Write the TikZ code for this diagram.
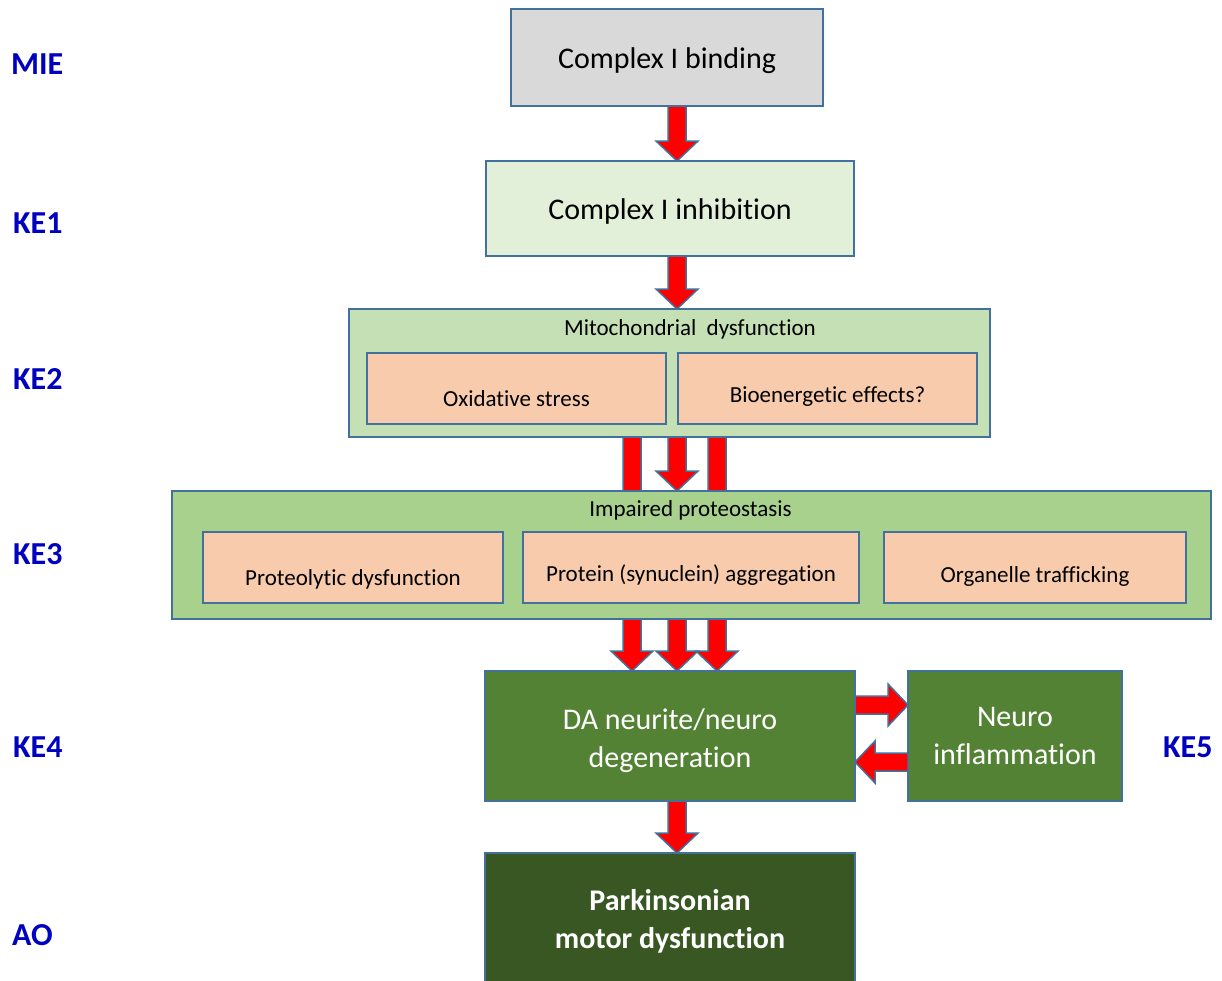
\documentclass[tikz,border=0pt]{standalone}
\usepackage{fontspec}
\setmainfont{Carlito}[Ligatures=NoCommon]
\usetikzlibrary{calc}
\pgfdeclarelayer{background}
\pgfsetlayers{background,main}
\definecolor{bord}{HTML}{41719C}
\definecolor{cmie}{HTML}{D9D9D9}
\definecolor{cke1}{HTML}{E2F0D9}
\definecolor{cke2}{HTML}{C5E0B4}
\definecolor{cke3}{HTML}{A9D18E}
\definecolor{cin}{HTML}{F8CBAD}
\definecolor{cke4}{HTML}{548235}
\definecolor{cao}{HTML}{385723}
\definecolor{labblue}{HTML}{0000C0}
\definecolor{arrred}{HTML}{FF0000}
\tikzset{
  box/.style={draw=bord, line width=1.8pt, inner sep=0pt, outer sep=0pt, align=center},
  bigtxt/.style={font=\fontsize{30}{38}\selectfont},
  smalltxt/.style={font=\fontsize{23}{28}\selectfont},
  lab/.style={font=\fontsize{32}{38}\selectfont\bfseries, text=labblue, inner sep=0pt, anchor=base west},
  fat/.style={draw=bord, fill=arrred, line width=1.5pt, line join=miter,
    to path={let \p1=(\tikztostart), \p2=(\tikztotarget), \p3=($(\p2)!20pt!(\p1)$) in
      ($(\p1)!9pt!90:(\p2)$) -- ($(\p3)!9pt!90:(\p2)$) -- ($(\p3)!21pt!90:(\p2)$) -- (\p2)
      -- ($(\p3)!21pt!-90:(\p2)$) -- ($(\p3)!9pt!-90:(\p2)$) -- ($(\p1)!9pt!-90:(\p2)$) -- cycle}},
}
\begin{document}
\begin{tikzpicture}[x=1pt, y=-1pt]
\begin{pgfonlayer}{background}
\fill[white] (0,0) rectangle (1222,980);
\end{pgfonlayer}
\useasboundingbox (0,0) rectangle (1222,980);

% column coordinates
\coordinate (xc) at (677,0);
\coordinate (xl) at (632,0);
\coordinate (xr) at (717,0);
\coordinate (yra) at (0,705);
\coordinate (yla) at (0,762);
\coordinate (hidl) at (632,540);
\coordinate (hidr) at (717,540);

% labels
\node[lab] (lmie) at (11,74) {MIE};
\node[lab] (lke1) at (13,233) {KE1};
\node[lab] (lke2) at (13,389) {KE2};
\node[lab] (lke3) at (13,564) {KE3};
\node[lab] (lke4) at (13,757) {KE4};
\node[lab] (lao) at (12,945) {AO};
\node[lab] (lke5) at (1163,757) {KE5};

% boxes
\node[box, bigtxt, fill=cmie, minimum width=312, minimum height=97, text height=27pt, text depth=6pt] (mie) at (667,57.5) {Complex I binding};
\node[box, bigtxt, fill=cke1, minimum width=368, minimum height=95, text height=27pt, text depth=6pt] (ke1) at (670,208.5) {Complex I inhibition};

\node[box, fill=cke2, minimum width=641, minimum height=128] (ke2) at (669.5,373) {};
\node[smalltxt, inner sep=0pt, anchor=base] (ke2t) at (690,335) {Mitochondrial\ \ dysfunction};
\node[box, smalltxt, fill=cin, minimum width=299, minimum height=71, text height=40pt, text depth=5pt] (ox) at (516.5,388.5) {Oxidative stress};
\node[box, smalltxt, fill=cin, minimum width=299, minimum height=71, text height=33pt, text depth=5pt] (bio) at (827.5,388.5) {Bioenergetic effects?};

% hidden arrows behind KE3
\begin{pgfonlayer}{background}
\draw[fat] (ke2.south -| xl) to (hidl);
\draw[fat] (ke2.south -| xr) to (hidr);
\end{pgfonlayer}

\node[box, fill=cke3, minimum width=1039, minimum height=128] (ke3) at (691.5,555) {};
\node[smalltxt, inner sep=0pt, anchor=base] (ke3t) at (690.5,516) {Impaired proteostasis};
\node[box, smalltxt, fill=cin, minimum width=300, minimum height=71, text height=40pt, text depth=5pt] (pd) at (353,567.5) {Proteolytic dysfunction};
\node[box, smalltxt, fill=cin, minimum width=336, minimum height=71, text height=32pt, text depth=5pt] (ps) at (691,567.5) {Protein (synuclein) aggregation};
\node[box, smalltxt, fill=cin, minimum width=302, minimum height=71, text height=34pt, text depth=5pt] (ot) at (1035,567.5) {Organelle trafficking};

\node[box, bigtxt, fill=cke4, text=white, minimum width=370, minimum height=130] (ke4) at (670,736) {\rule{0pt}{30pt}DA neurite/neuro\\degeneration};
\node[box, bigtxt, fill=cke4, text=white, minimum width=214, minimum height=130] (ke5) at (1015,736) {Neuro\\inflammation};
\node[box, bigtxt, fill=cao, text=white, font=\fontsize{30}{38}\selectfont\bfseries, minimum width=370, minimum height=137] (ao) at (670,921.5) {Parkinsonian\\motor dysfunction};

% connectors
\draw[fat] (mie.south -| xc) to (ke1.north -| xc);
\draw[fat] (ke1.south -| xc) to (ke2.north -| xc);
\draw[fat] (ke2.south -| xc) to (ke3.north -| xc);
\draw[fat] (ke3.south -| xl) to (ke4.north -| xl);
\draw[fat] (ke3.south -| xc) to (ke4.north -| xc);
\draw[fat] (ke3.south -| xr) to (ke4.north -| xr);
\draw[fat] (ke4.east |- yra) to (ke5.west |- yra);
\draw[fat] (ke5.west |- yla) to (ke4.east |- yla);
\draw[fat] (ke4.south -| xc) to (ao.north -| xc);
\end{tikzpicture}
\end{document}
